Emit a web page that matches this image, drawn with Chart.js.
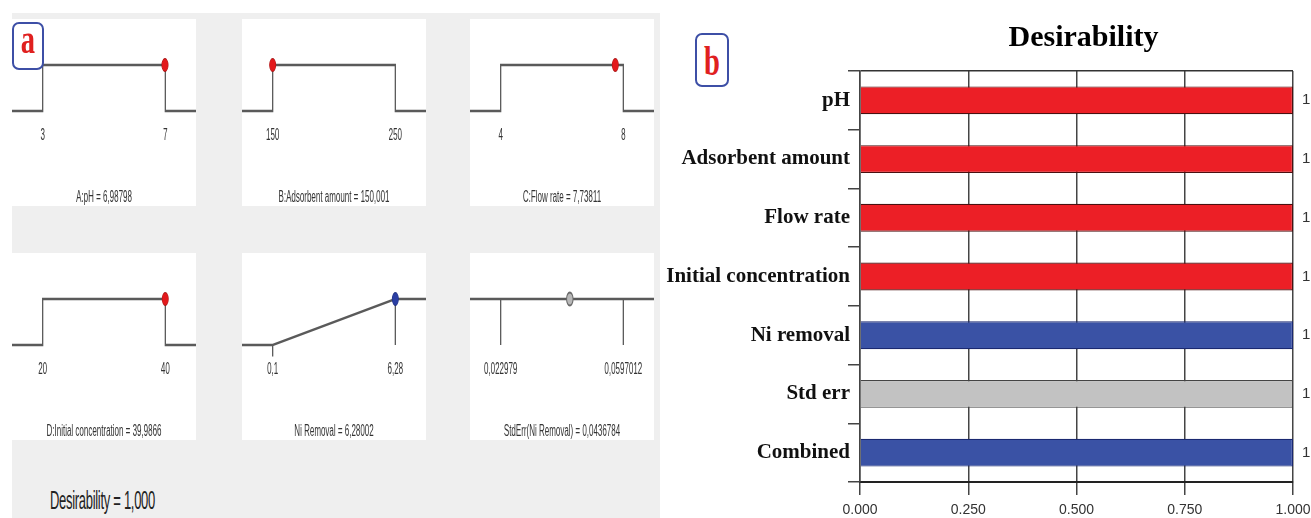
<!DOCTYPE html>
<html>
<head>
<meta charset="utf-8">
<script src="https://cdn.jsdelivr.net/npm/chart.js@4.4.1/dist/chart.umd.min.js"></script>
<style>
  html, body { margin: 0; padding: 0; background: #fff; width: 1311px; height: 518px; overflow: hidden; }
  body { position: relative; font-family: "Liberation Sans", Arial, sans-serif; }
  /* the optimisation panel is laid out twice as wide, then condensed */
  #left { position: absolute; left: 0; top: 0; width: 1320px; height: 518px; transform: scaleX(0.5); transform-origin: 0 0; }
  #bg { position: absolute; left: 24px; top: 13px; width: 1296px; height: 505px; background: #efefef; }
  .panel { position: absolute; width: 368px; height: 187px; background: #fff; }
  .panel canvas { display: block; }
  #overall { position: absolute; left: 100px; top: 487px; font-size: 26px; line-height: 26px; letter-spacing: -0.6px; color: #222; white-space: nowrap; }
  #right { position: absolute; left: 660px; top: 0; width: 651px; height: 518px; }
  .tag { position: absolute; box-sizing: border-box; border: 2px solid #3d4fa6; border-radius: 7px; background: #fff; }
  .tag span { position: absolute; left: 0; width: 100%; text-align: center; font-family: "Liberation Serif", "Times New Roman", serif;
              font-weight: bold; font-size: 42px; line-height: 42px; color: #e0201f; transform: scaleX(0.68); }
</style>
</head>
<body>
<div id="left">
  <div id="bg"></div>
  <div class="panel" style="left:24px;top:19px"><canvas id="p0" width="368" height="187"></canvas></div>
  <div class="panel" style="left:484px;top:19px"><canvas id="p1" width="368" height="187"></canvas></div>
  <div class="panel" style="left:940px;top:19px"><canvas id="p2" width="368" height="187"></canvas></div>
  <div class="panel" style="left:24px;top:253px"><canvas id="p3" width="368" height="187"></canvas></div>
  <div class="panel" style="left:484px;top:253px"><canvas id="p4" width="368" height="187"></canvas></div>
  <div class="panel" style="left:940px;top:253px"><canvas id="p5" width="368" height="187"></canvas></div>
  <div id="overall"></div>
</div>
<div class="tag" style="left:12px;top:22px;width:32px;height:48px"><span style="top:-6px">a</span></div>
<div class="tag" style="left:695px;top:33px;width:34px;height:54px"><span style="top:5px">b</span></div>
<div id="right"><canvas id="desir" width="651" height="518"></canvas></div>

<script>
// ---- numerical optimisation: factors and responses ----
const factorNames   = ['A:pH', 'B:Adsorbent amount', 'C:Flow rate', 'D:Initial concentration', 'Ni Removal', 'StdErr(Ni Removal)'];
const lowLimits     = [3, 150, 4, 20, 0.1, 0.022979];
const highLimits    = [7, 250, 8, 40, 6.28, 0.0597012];
const lowLabels     = ['3', '150', '4', '20', '0,1', '0,022979'];
const highLabels    = ['7', '250', '8', '40', '6,28', '0,0597012'];
const optimumValues = [6.98798, 150.001, 7.73811, 39.9866, 6.28002, 0.0436784];
const optimumLabels = ['6,98798', '150,001', '7,73811', '39,9866', '6,28002', '0,0436784'];
const goalTypes     = ['range', 'range', 'range', 'range', 'maximize', 'none'];
const overallDesirabilityLabel = '1,000';

// ---- desirability bars ----
const desirabilityCategories = ['pH', 'Adsorbent amount', 'Flow rate', 'Initial concentration', 'Ni removal', 'Std err', 'Combined'];
const desirabilityValues     = [1, 1, 1, 1, 1, 1, 1];
const desirabilityTicks      = [0, 0.25, 0.5, 0.75, 1];

// styling
const pointFill   = ['#e3191c', '#e3191c', '#e3191c', '#e3191c', '#2b3fa3', '#b8b8b8'];
const pointStroke = ['#a31010', '#a31010', '#a31010', '#a31010', '#1a2a7a', '#6a6a6a'];
const lineColour  = '#5a5a5a';
const sansFont    = '"Liberation Sans", Arial, sans-serif';
const serifFont   = '"Liberation Serif", "Times New Roman", serif';

document.getElementById('overall').textContent = 'Desirability = ' + overallDesirabilityLabel;

// labels under each ramp: the two limits and the current setting
const panelText = {
  id: 'panelText',
  afterDraw(chart, args, opts) {
    const ctx = chart.ctx, x = chart.scales.x;
    ctx.save();
    ctx.fillStyle = '#333';
    ctx.font = '16px ' + sansFont;
    ctx.textAlign = 'center';
    ctx.textBaseline = 'middle';
    ctx.fillText(opts.low, x.getPixelForValue(opts.lowValue), opts.tickY);
    ctx.fillText(opts.high, x.getPixelForValue(opts.highValue), opts.tickY);
    ctx.fillText(opts.title, chart.width / 2, opts.titleY);
    ctx.restore();
  }
};

function segment(points, width) {
  return { data: points, showLine: true, borderColor: lineColour, borderWidth: width || 2.6,
           pointRadius: 0, fill: false, clip: false, tension: 0 };
}

factorNames.forEach((name, i) => {
  const lo = lowLimits[i], hi = highLimits[i], span = hi - lo;
  const xmin = lo - 0.25 * span, xmax = hi + 0.25 * span;
  const d = desirabilityValues[i];
  const sets = [{
    data: [{ x: optimumValues[i], y: d }], showLine: false, pointRadius: 6.5,
    pointBackgroundColor: pointFill[i], pointBorderColor: pointStroke[i], pointBorderWidth: i === 5 ? 2 : 1, clip: false
  }];
  if (goalTypes[i] === 'range') {
    sets.push(segment([{ x: xmin, y: 0 }, { x: lo, y: 0 }, { x: lo, y: 1 }, { x: hi, y: 1 }, { x: hi, y: 0 }, { x: xmax, y: 0 }]));
  } else if (goalTypes[i] === 'maximize') {
    sets.push(segment([{ x: xmin, y: 0 }, { x: lo, y: 0 }, { x: hi, y: 1 }, { x: xmax, y: 1 }]));
    sets.push(segment([{ x: hi, y: 1 }, { x: hi, y: 0 }]));
    sets.push(segment([{ x: lo, y: 0 }, { x: lo, y: -0.25 }]));
  } else {
    sets.push(segment([{ x: xmin, y: 1 }, { x: xmax, y: 1 }]));
    sets.push(segment([{ x: lo, y: 1 }, { x: lo, y: 0 }]));
    sets.push(segment([{ x: hi, y: 1 }, { x: hi, y: 0 }]));
  }
  new Chart(document.getElementById('p' + i), {
    type: 'scatter',
    data: { datasets: sets },
    options: {
      responsive: false, animation: false, events: [],
      layout: { padding: 0, autoPadding: false },
      plugins: {
        legend: { display: false }, tooltip: { enabled: false },
        panelText: { low: lowLabels[i], high: highLabels[i], lowValue: lo, highValue: hi,
                     title: name + ' = ' + optimumLabels[i], tickY: 116.5, titleY: 178.5 }
      },
      scales: {
        x: { type: 'linear', display: false, min: xmin, max: xmax },
        y: { type: 'linear', display: false, min: -2.065, max: 2 }
      }
    },
    plugins: [panelText]
  });
});

// value written at the end of every bar
const barValues = {
  id: 'barValues',
  afterDatasetsDraw(chart) {
    const ctx = chart.ctx;
    const meta = chart.getDatasetMeta(0);
    ctx.save();
    ctx.fillStyle = '#333';
    ctx.font = '15px ' + sansFont;
    ctx.textAlign = 'left';
    ctx.textBaseline = 'middle';
    meta.data.forEach((bar, k) => {
      ctx.fillText(String(chart.data.datasets[0].data[k]), bar.x + 9, bar.y);
    });
    ctx.restore();
  }
};

const barColours = desirabilityCategories.map((c, k) => k < 4 ? '#ec1f26' : (k === 5 ? '#c2c2c2' : '#3a52a5'));
const barEdges   = desirabilityCategories.map((c, k) => k < 4 ? '#4a1010' : (k === 5 ? '#444' : '#1a2870'));

// centred over the plotting area, set slightly right as in the print layout
const titleOffset = {
  id: 'titleOffset',
  afterDraw(chart, args, opts) {
    const ctx = chart.ctx, a = chart.chartArea;
    ctx.save();
    ctx.fillStyle = '#000';
    ctx.font = 'bold 30px ' + serifFont;
    ctx.textAlign = 'center';
    ctx.textBaseline = 'middle';
    ctx.fillText(opts.text, (a.left + a.right) / 2 + 7, 38);
    ctx.restore();
  }
};

new Chart(document.getElementById('desir'), {
  type: 'bar',
  data: {
    labels: desirabilityCategories,
    datasets: [{
      data: desirabilityValues, backgroundColor: barColours, borderColor: barEdges, borderWidth: 1.2,
      categoryPercentage: 0.5, barPercentage: 0.95
    }]
  },
  options: {
    indexAxis: 'y', responsive: false, animation: false, events: [],
    layout: { padding: { left: 0, right: 18, top: 71, bottom: 0 } },
    plugins: {
      legend: { display: false }, tooltip: { enabled: false },
      titleOffset: { text: 'Desirability' }
    },
    scales: {
      x: {
        min: 0, max: 1,
        afterBuildTicks: s => { s.ticks = desirabilityTicks.map(v => ({ value: v })); },
        ticks: { callback: v => Number(v).toFixed(3), color: '#333', font: { family: sansFont, size: 14 }, padding: 7, maxRotation: 0 },
        grid: { color: '#444', lineWidth: 1.5, tickLength: 13, tickColor: '#444' },
        border: { display: true, color: '#222', width: 2 },
        afterFit: s => { s.height = 36; s.paddingLeft = 0; s.paddingRight = 0; }
      },
      y: {
        grid: { offset: true, tickLength: 12, lineWidth: 1.5, tickColor: '#444',
                color: c => (c.index === 0 || c.index === desirabilityCategories.length) ? '#333' : 'rgba(0,0,0,0)' },
        border: { display: true, color: '#444', width: 1.5 },
        ticks: { color: '#111', padding: -2, font: { family: serifFont, size: 21, weight: 'bold' } },
        afterFit: s => { s.width = 200; s.paddingTop = 0; s.paddingBottom = 0; }
      }
    }
  },
  plugins: [barValues, titleOffset]
});
</script>
</body>
</html>
